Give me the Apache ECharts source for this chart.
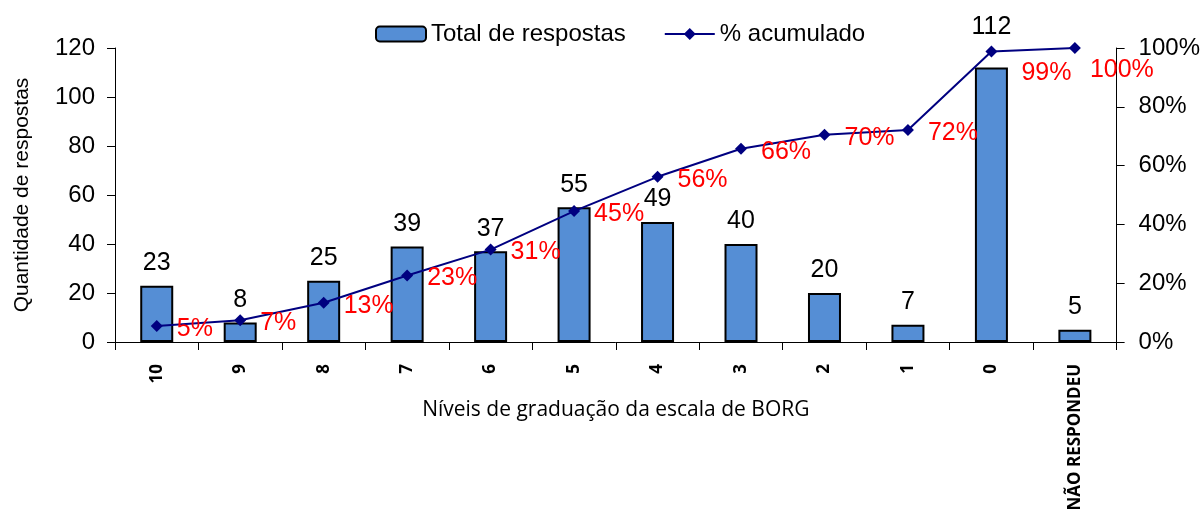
<!DOCTYPE html>
<html>
<head>
<meta charset="utf-8">
<script src="https://cdn.jsdelivr.net/npm/echarts@6/dist/echarts.min.js"></script>
<style>
  html, body { margin: 0; padding: 0; background: #fff; }
  #main { width: 1203px; height: 516px; }
</style>
</head>
<body>
<div id="main"></div>
<script>
// niveis da escala de BORG
var categories = ['10', '9', '8', '7', '6', '5', '4', '3', '2', '1', '0', 'NÃO RESPONDEU']
var totalRespostas = [23, 8, 25, 39, 37, 55, 49, 40, 20, 7, 112, 5]
var acumulado = [5.48, 7.38, 13.33, 22.62, 31.43, 44.52, 56.19, 65.71, 70.48, 72.14, 98.81, 100]
var leftTicks = [0, 20, 40, 60, 80, 100, 120]
var rightTicks = [0, 20, 40, 60, 80, 100]

var chart = echarts.init(document.getElementById('main'))

var arial = '"Liberation Sans", Arial, sans-serif'
var calibri = '"Open Sans", "Noto Sans", sans-serif'

var barData = totalRespostas.map(function (v, i) {
  var item = { value: v }
  if (i == 10) item.label = { distance: 28 }
  return item
})
var lineData = acumulado.map(function (v, i) {
  var item = { value: v }
  if (i == 10) item.label = { offset: [10, 22] }
  if (i == 11) item.label = { offset: [-5, 22] }
  return item
})

var option = {
  animation: false,
  backgroundColor: '#fff',
  legend: {
    top: 17,
    left: 370,
    itemGap: 38,
    itemWidth: 50,
    itemHeight: 15,
    textStyle: { fontFamily: arial, fontSize: 24, color: '#000' },
    data: ['Total de respostas', '% acumulado']
  },
  grid: { left: 115, right: 86, top: 48, bottom: 174 },
  xAxis: {
    type: 'category',
    data: categories,
    name: 'Níveis de graduação da escala de BORG',
    nameLocation: 'middle',
    nameGap: 58,
    nameMoveOverlap: false,
    nameTextStyle: { fontFamily: calibri, fontSize: 21, color: '#000' },
    axisLine: { lineStyle: { color: '#000', width: 1 } },
    axisTick: { show: true, length: 8, lineStyle: { color: '#000' } },
    axisLabel: {
      rotate: 90,
      margin: 22,
      fontFamily: calibri,
      fontWeight: 'bold',
      fontSize: 17,
      color: '#000'
    }
  },
  yAxis: [{
    type: 'value',
    min: 0,
    max: leftTicks[leftTicks.length - 1],
    interval: leftTicks[1] - leftTicks[0],
    name: 'Quantidade de respostas',
    nameLocation: 'middle',
    nameRotate: 90,
    nameGap: 82,
    nameMoveOverlap: false,
    nameTextStyle: { fontFamily: arial, fontSize: 21, color: '#000' },
    axisLine: { show: true, lineStyle: { color: '#000' } },
    axisTick: { show: true, length: 8, lineStyle: { color: '#000' } },
    splitLine: { show: false },
    axisLabel: { margin: 20, fontFamily: arial, fontSize: 24, color: '#000' }
  }, {
    type: 'value',
    position: 'right',
    min: 0,
    max: rightTicks[rightTicks.length - 1],
    interval: rightTicks[1] - rightTicks[0],
    axisLine: { show: true, lineStyle: { color: '#000' } },
    axisTick: { show: true, length: 8, lineStyle: { color: '#000' } },
    splitLine: { show: false },
    axisLabel: {
      margin: 22,
      fontFamily: arial,
      fontSize: 24,
      color: '#000',
      formatter: '{value}%'
    }
  }],
  series: [{
    name: 'Total de respostas',
    type: 'bar',
    barWidth: 33,
    data: barData,
    itemStyle: { color: '#558ED5', borderColor: '#000', borderWidth: 2 },
    label: {
      show: true,
      position: 'top',
      distance: 10,
      fontFamily: arial,
      fontSize: 25,
      color: '#000'
    }
  }, {
    name: '% acumulado',
    type: 'line',
    yAxisIndex: 1,
    smooth: false,
    symbol: 'diamond',
    symbolSize: 12,
    data: lineData,
    lineStyle: { color: '#000080', width: 2 },
    itemStyle: { color: '#000080' },
    label: {
      show: true,
      position: 'right',
      distance: 14,
      offset: [0, 3],
      fontFamily: arial,
      fontSize: 25,
      color: '#FF0000',
      formatter: function (p) { return Math.round(p.value) + '%' }
    }
  }]
}

chart.setOption(option)
</script>
</body>
</html>
